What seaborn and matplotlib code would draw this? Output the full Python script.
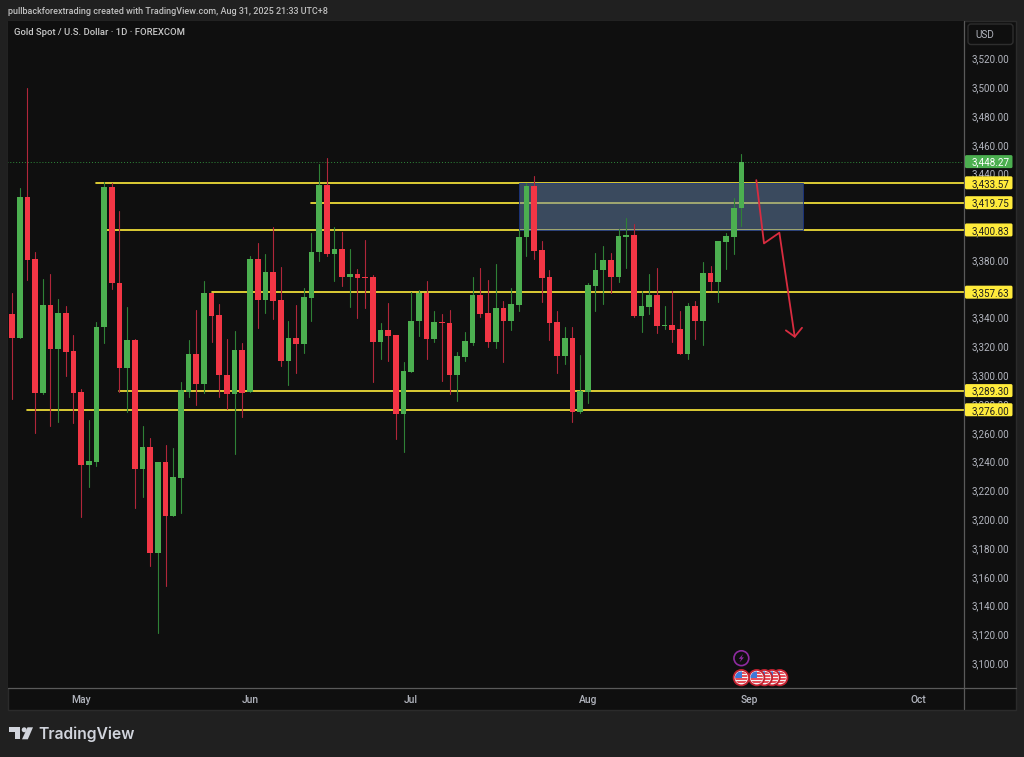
import numpy as np
import pandas as pd
import seaborn as sns
import matplotlib.pyplot as plt
from matplotlib.lines import Line2D
from matplotlib.patches import Rectangle, FancyBboxPatch, Circle, Polygon
from matplotlib.transforms import IdentityTransform

# daily candles, bar 0 = 18 Apr 2025
opens = [3342.5, 3326.0, 3423.9, 3380.4, 3287.4, 3348.7, 3318.4, 3343.4, 3316.8, 3288.1,
         3237.8, 3239.7, 3333.2, 3430.8, 3364.0, 3305.0, 3324.4, 3234.6, 3249.9, 3176.7,
         3239.5, 3202.4, 3228.8, 3288.5, 3314.4, 3293.8, 3356.8, 3341.8, 3300.3, 3286.9,
         3317.4, 3288.1, 3381.0, 3352.2, 3371.6, 3352.2, 3309.8, 3325.6, 3321.6, 3353.8,
         3385.5, 3432.0, 3384.1, 3387.6, 3368.3, 3370.0, 3367.9, 3367.9, 3322.8, 3331.3,
         3327.7, 3273.2, 3302.0, 3337.4, 3356.8, 3324.9, 3336.9, 3336.4, 3300.3, 3312.4,
         3322.5, 3355.4, 3342.9, 3323.2, 3346.6, 3337.8, 3348.7, 3395.7, 3431.3, 3386.9,
         3367.9, 3336.9, 3313.5, 3326.0, 3274.6, 3288.5, 3362.1, 3373.0, 3379.9, 3367.9,
         3396.1, 3397.3, 3341.3, 3347.3, 3355.4, 3334.3, 3335.0, 3332.0, 3314.7, 3347.8,
         3337.6, 3371.1, 3364.6, 3392.4, 3396.1, 3415.8]
closes = [3326.0, 3423.9, 3379.9, 3287.4, 3348.7, 3318.4, 3343.4, 3316.3, 3287.4, 3237.8,
          3240.2, 3333.6, 3430.8, 3363.8, 3305.0, 3324.4, 3234.6, 3249.9, 3176.7, 3239.5,
          3202.4, 3229.1, 3289.7, 3314.4, 3293.8, 3356.8, 3341.3, 3300.1, 3286.9, 3317.4,
          3287.8, 3381.0, 3352.2, 3371.6, 3351.4, 3309.8, 3325.6, 3321.6, 3354.2, 3385.7,
          3432.0, 3384.1, 3387.6, 3368.3, 3370.0, 3367.4, 3367.4, 3322.8, 3331.3, 3327.2,
          3273.2, 3302.7, 3337.8, 3357.2, 3324.9, 3336.9, 3336.4, 3300.3, 3313.1, 3323.5,
          3355.4, 3342.4, 3323.2, 3346.6, 3337.8, 3349.4, 3396.1, 3431.3, 3386.4, 3367.4,
          3336.4, 3313.5, 3326.0, 3274.6, 3288.8, 3362.6, 3373.2, 3379.9, 3367.9, 3396.6,
          3397.3, 3341.3, 3347.8, 3355.4, 3334.1, 3335.0, 3331.3, 3314.7, 3347.8, 3337.6,
          3371.1, 3364.6, 3392.9, 3396.6, 3416.2, 3448.27]
highs = [3356.8, 3429.7, 3499.1, 3385.7, 3366.7, 3370.0, 3352.9, 3348.2, 3327.7, 3290.4,
         3268.9, 3336.7, 3434.3, 3433.4, 3414.2, 3347.1, 3325.0, 3264.9, 3256.2, 3240.0,
         3251.3, 3249.2, 3295.0, 3324.4, 3345.2, 3365.4, 3357.0, 3349.4, 3324.9, 3330.4,
         3322.1, 3382.7, 3391.5, 3384.1, 3402.6, 3374.8, 3337.8, 3348.7, 3360.3, 3398.4,
         3446.6, 3450.5, 3402.6, 3399.6, 3387.6, 3373.7, 3393.8, 3369.3, 3336.4, 3349.9,
         3328.0, 3309.1, 3357.9, 3359.1, 3365.4, 3344.3, 3342.4, 3345.2, 3316.3, 3329.9,
         3368.3, 3374.4, 3366.0, 3376.9, 3351.4, 3360.7, 3400.8, 3433.2, 3438.2, 3392.9,
         3373.0, 3344.5, 3333.6, 3333.6, 3314.0, 3363.7, 3385.0, 3389.6, 3385.0, 3401.2,
         3408.9, 3404.9, 3358.6, 3370.2, 3374.4, 3348.2, 3358.2, 3344.5, 3350.1, 3351.4,
         3378.3, 3375.8, 3393.0, 3398.4, 3422.8, 3453.5]
lows = [3283.4, 3325.5, 3366.0, 3259.6, 3287.0, 3264.7, 3267.7, 3299.4, 3267.0, 3201.7,
        3222.6, 3237.1, 3322.5, 3359.8, 3288.5, 3274.6, 3207.6, 3215.6, 3167.7, 3120.8,
        3153.8, 3202.0, 3204.1, 3285.0, 3279.2, 3287.4, 3323.2, 3285.0, 3276.5, 3245.0,
        3271.1, 3288.0, 3332.5, 3343.4, 3339.0, 3306.3, 3293.2, 3301.7, 3315.2, 3337.8,
        3379.2, 3382.7, 3365.6, 3361.9, 3347.1, 3339.4, 3346.8, 3295.0, 3311.2, 3309.8,
        3255.5, 3246.9, 3302.0, 3327.2, 3311.2, 3323.2, 3296.1, 3286.9, 3282.0, 3309.8,
        3320.9, 3340.6, 3319.3, 3318.9, 3309.1, 3331.3, 3344.5, 3382.7, 3380.8, 3351.0,
        3324.4, 3301.7, 3307.5, 3267.7, 3273.5, 3280.8, 3344.5, 3349.4, 3356.8, 3364.6,
        3374.4, 3340.6, 3330.1, 3342.4, 3329.4, 3332.0, 3323.2, 3314.7, 3311.0, 3324.9,
        3321.1, 3359.1, 3351.0, 3373.5, 3384.3, 3403.5]

# horizontal levels the author drew, and the bar each one starts on
level_prices = [3433.57, 3419.75, 3400.83, 3357.63, 3289.30, 3276.00]
level_starts = [11, 39, 12.4, 26, 14, 2]
last_price = 3448.27

zone_bars = [66, 103]
zone_prices = [3400.83, 3433.57]

# hand drawn red arrow
arrow_bars = [96.95, 97.95, 99.95, 101.95]
arrow_prices = [3435.4, 3391.5, 3398.9, 3326.7]
head_bars = [100.8, 101.95, 102.9]
head_prices = [3331.1, 3326.7, 3332.9]

y_ticks = list(range(3100, 3521, 20))
month_labels = ['May', 'Jun', 'Jul', 'Aug', 'Sep', 'Oct']
month_bars = [9, 31, 52, 75, 96, 118]

event_bars = [95, 97, 98, 99, 100]
event_price = 3090
lightning_price = 3103.5

W, H = 1024, 757
BG = '#202020'
PANE = '#0f0f0f'
UP = '#4caf50'
DOWN = '#f23645'
YELLOW = '#ffeb3b'
TXT = '#b2b5be'
FONT = 'Roboto'
DIVIDER = '#5a5a5a'

sns.set_theme(style='dark', rc={'axes.facecolor': PANE, 'figure.facecolor': BG})
plt.rcParams['font.family'] = FONT

candles = pd.DataFrame({'bar': range(len(opens)), 'open': opens, 'close': closes,
                        'high': highs, 'low': lows})
candles['bottom'] = candles[['open', 'close']].min(axis=1)
candles['body'] = (candles['close'] - candles['open']).abs()
candles['up'] = candles['close'] >= candles['open']

fig = plt.figure(figsize=(W / 100, H / 100), dpi=100)
ax = fig.add_axes([8 / W, 1 - 688.3 / H, 956 / W, (688.3 - 21) / H])


def disp(x, y):
    # picture pixel (y from the top) to display coords
    return x, H - y


# frame behind the axes, price and time columns sit inside it
fig.add_artist(Rectangle(disp(7.5, 709.5), 1008.5, 689, transform=IdentityTransform(),
                         fc=PANE, ec='#2b2b2b', lw=1, zorder=-5))
fig.add_artist(Line2D([964.3, 964.3], [H - 21, H - 709], transform=IdentityTransform(),
                      color=DIVIDER, lw=0.9, zorder=7))
fig.add_artist(Line2D([8, 1015.5], [H - 688.3, H - 688.3], transform=IdentityTransform(),
                      color=DIVIDER, lw=0.9, zorder=7))

# levels go under the zone, candles over everything
for price, start in zip(level_prices, level_starts):
    level = pd.DataFrame({'bar': [start, 124], 'price': [price, price]})
    sns.lineplot(data=level, x='bar', y='price', color=YELLOW, linewidth=1.2, zorder=2, ax=ax)

ax.add_patch(Rectangle((zone_bars[0], zone_prices[0]), zone_bars[1] - zone_bars[0],
                       zone_prices[1] - zone_prices[0], fc=(0.40, 0.52, 0.68, 0.5),
                       ec=(0.1, 0.2, 0.5, 0.9), lw=0.7, zorder=3))

last_line = pd.DataFrame({'bar': [-1, 124], 'price': [last_price, last_price]})
sns.lineplot(data=last_line, x='bar', y='price', color='#2f8a3a', linewidth=0.7,
             linestyle=(0, (1, 2)), zorder=1, ax=ax)

for is_up, color, wick in [(True, UP, '#2f8136'), (False, DOWN, '#b0263a')]:
    sub = candles[candles['up'] == is_up]
    wicks = sub.melt(id_vars='bar', value_vars=['low', 'high'], value_name='price')
    sns.lineplot(data=wicks, x='bar', y='price', units='bar', estimator=None, color=wick,
                 linewidth=0.8, zorder=4, ax=ax)
    sns.barplot(data=sub, x='bar', y='body', bottom=sub['bottom'], native_scale=True, orient='x',
                color=color, saturation=1, width=0.74, errorbar=None, linewidth=0, zorder=5, ax=ax)

arrow = pd.DataFrame({'bar': arrow_bars, 'price': arrow_prices})
head = pd.DataFrame({'bar': head_bars, 'price': head_prices})
sns.lineplot(data=arrow, x='bar', y='price', sort=False, estimator=None, color='#d92c40',
             linewidth=1.3, zorder=6, ax=ax)
sns.lineplot(data=head, x='bar', y='price', sort=False, estimator=None, color='#d92c40',
             linewidth=1.3, zorder=6, ax=ax)

ax.set_xlim(-0.52, 124)
ax.set_ylim(3082.6, 3545.9)
ax.set(xlabel='', ylabel='')
ax.grid(False)
ax.yaxis.tick_right()
ax.set_yticks(y_ticks)
ax.set_yticklabels([f'{v:,.2f}' for v in y_ticks], fontsize=7.1, color=TXT)
ax.set_xticks(month_bars)
ax.set_xticklabels(month_labels, fontsize=7.4, color=TXT, fontweight='medium')
ax.tick_params(axis='y', length=0, pad=5.5)
ax.tick_params(axis='x', length=0, pad=4.5)
for spine in ax.spines.values():
    spine.set_visible(False)
fig.canvas.draw()


def price_tag(price, label, face, color):
    y = ax.transData.transform((0, price))[1]
    fig.add_artist(FancyBboxPatch((965, y - 6.5), 47.5, 13, boxstyle='round,pad=0,rounding_size=1.5',
                                  transform=IdentityTransform(), fc=face, ec='none', zorder=8))
    fig.text(971.7 / W, y / H, label, fontsize=7.1, color=color, va='center_baseline', zorder=9)


for price in level_prices:
    price_tag(price, f'{price:,.2f}', YELLOW, '#1e1e1e')
price_tag(last_price, f'{last_price:,.2f}', UP, '#ffffff')

# USD button top of the price column
fig.add_artist(FancyBboxPatch(disp(968, 44.5), 45, 20.5, boxstyle='round,pad=0,rounding_size=3',
                              transform=IdentityTransform(), fc=PANE, ec='#2e2e2e', lw=1, zorder=8))
fig.text(975 / W, 1 - 34.8 / H, 'USD', fontsize=7.2, color=TXT, va='center', zorder=9)

fig.text(8 / W, 1 - 11.5 / H, 'pullbackforextrading created with TradingView.com, Aug 31, 2025 21:33 UTC+8',
         fontsize=6.5, color='#c0c0c0', va='center', fontweight='medium')
fig.text(14 / W, 1 - 32.5 / H, 'Gold Spot / U.S. Dollar · 1D · FOREXCOM',
         fontsize=6.8, color='#c8c8c8', va='center', fontweight='medium')


# event markers along the bottom
def us_flag(bar):
    cx, cy = ax.transData.transform((bar, event_price))
    ring = Circle((cx, cy), 7.7, transform=IdentityTransform(), fc='#f4f4f4', ec='#c4202f', lw=1.3, zorder=10)
    fig.add_artist(ring)
    clip = Circle((cx, cy), 6.2, transform=IdentityTransform())
    for dy in [-4.5, -1.5, 1.5, 4.5]:
        stripe = Rectangle((cx - 7, cy + dy - 0.7), 14, 1.4, transform=IdentityTransform(),
                           fc='#e8505b', ec='none', zorder=10)
        fig.add_artist(stripe)
        stripe.set_clip_path(clip)
    blue = Rectangle((cx - 7, cy - 0.5), 7.5, 7.5, transform=IdentityTransform(), fc='#3f78d8', ec='none', zorder=10)
    fig.add_artist(blue)
    blue.set_clip_path(clip)


for bar in event_bars[::-1]:
    us_flag(bar)

lx, ly = ax.transData.transform((event_bars[0], lightning_price))
fig.add_artist(Circle((lx, ly), 7.4, transform=IdentityTransform(), fc=PANE, ec='#8e2ba0', lw=1.2, zorder=10))
bolt = [(lx + 1.8, ly + 4.2), (lx - 2.6, ly - 0.6), (lx - 0.2, ly - 0.6), (lx - 1.8, ly - 4.2),
        (lx + 2.6, ly + 0.8), (lx + 0.2, ly + 0.8)]
fig.add_artist(Polygon(bolt, closed=True, transform=IdentityTransform(), fc='#8e2ba0', ec='none', zorder=10))

# TradingView logo and name
LOGO = '#d1d4dc'
t_shape = [(9.3, 727.3), (20.3, 727.3), (20.3, 739.3), (14.7, 739.3), (14.7, 732.3), (9.3, 732.3)]
slant = [(27.5, 727.3), (33, 727.3), (27.8, 739.3), (22, 739.3)]
for shape in [t_shape, slant]:
    fig.add_artist(Polygon([disp(*p) for p in shape], closed=True, transform=IdentityTransform(), fc=LOGO, ec='none'))
fig.add_artist(Circle(disp(24.2, 729.8), 2.5, transform=IdentityTransform(), fc=LOGO, ec='none'))
fig.text(38 / W, 1 - 739.5 / H, 'TradingView', fontsize=11.3, color=LOGO, va='baseline', family='Inter', fontweight='semibold')

fig.savefig('out.png', dpi=100, facecolor=BG)
